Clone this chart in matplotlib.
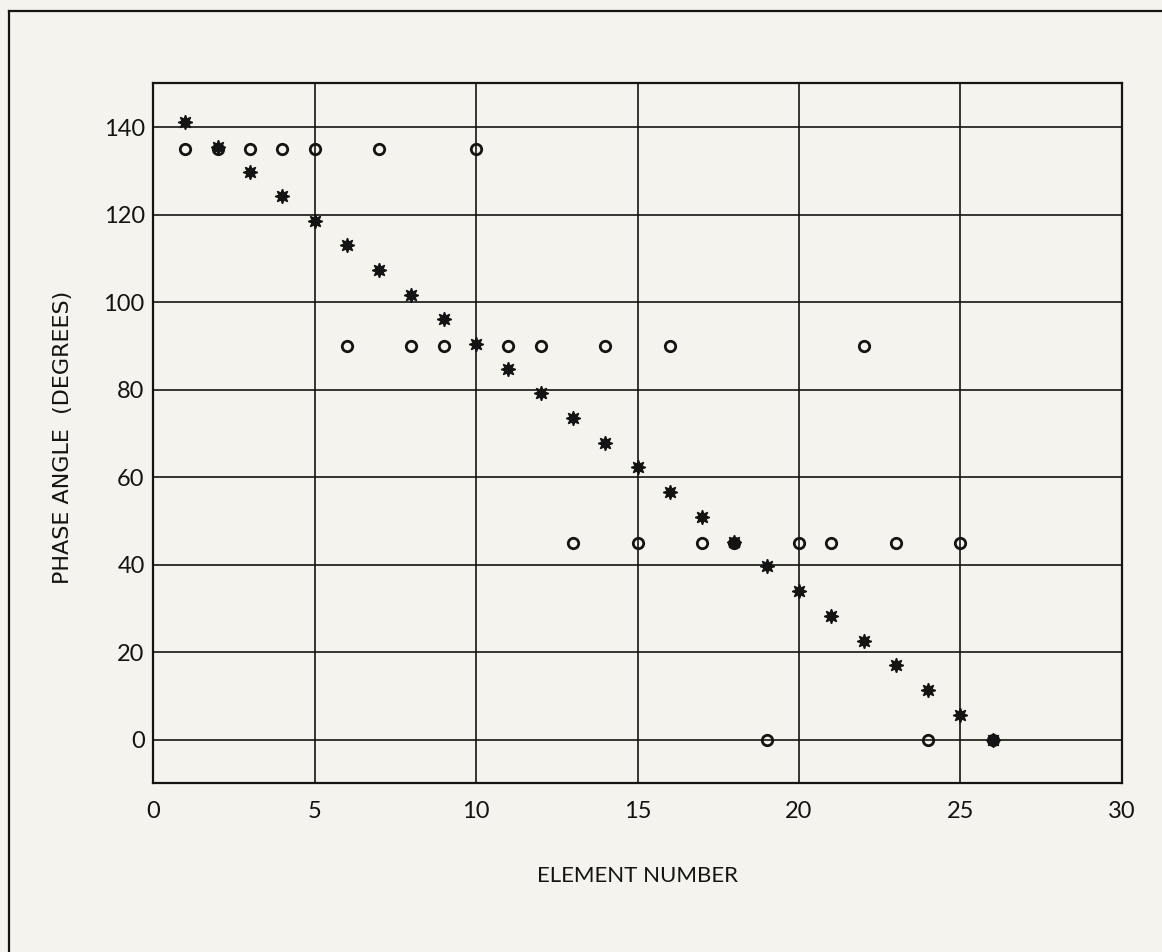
"""
Phase angle per array element: computed phase (asterisks) vs. quantized phase (circles).
"""
import matplotlib

matplotlib.use("Agg")
import matplotlib.pyplot as plt
from matplotlib.lines import Line2D

plt.rcParams["font.family"] = ["Lato", "DejaVu Sans"]

# 데이터 — 그림에서 읽은 값
element = list(range(1, 27))
phase_exact = [141.1, 135.4, 129.8, 124.2, 118.6, 113.0, 107.3, 101.7, 96.1,
               90.4, 84.8, 79.1, 73.5, 67.8, 62.2, 56.5, 50.9, 45.2, 39.6,
               33.9, 28.3, 22.6, 17.0, 11.3, 5.7, 0.0]
phase_quant = [135, 135, 135, 135, 135, 90, 135, 90, 90, 135, 90, 90, 45,
               90, 45, 90, 45, 45, 0, 45, 45, 90, 45, 0, 45, 0]
x_ticks = [0, 5, 10, 15, 20, 25, 30]
y_ticks = [0, 20, 40, 60, 80, 100, 120, 140]

BG = "#f4f3ee"
INK = "#141414"
W, H = 1162, 952

fig = plt.figure(figsize=(W / 100, H / 100), dpi=100, facecolor=BG)

# 바깥 테두리 (왼쪽/위쪽만 보임)
x0, y0 = 9 / W, 1 - 11 / H
fig.add_artist(Line2D([x0, x0], [-0.05, y0], transform=fig.transFigure,
                      color=INK, linewidth=1.6))
fig.add_artist(Line2D([x0, 1.05], [y0, y0], transform=fig.transFigure,
                      color=INK, linewidth=1.6))

ax = fig.add_axes([153 / W, 1 - 783.3 / H, 969 / W, 700 / H])
ax.set_facecolor(BG)

ax.set_xlim(0, 30)
ax.set_ylim(-10, 150)
ax.set_xticks(x_ticks)
ax.set_yticks(y_ticks)
ax.grid(True, color=INK, linewidth=1.2)
ax.set_axisbelow(True)
for s in ax.spines.values():
    s.set_color(INK)
    s.set_linewidth(1.6)
ax.tick_params(axis="both", length=0, labelsize=17, colors=INK)
ax.tick_params(axis="x", pad=13)
ax.tick_params(axis="y", pad=6)

ax.plot(element, phase_quant, linestyle="none", marker="o",
        markersize=7.5, markerfacecolor="none", markeredgecolor=INK,
        markeredgewidth=2.0, zorder=3)
ax.plot(element, phase_exact, linestyle="none", marker=(8, 1, 0),
        markersize=10.5, color=INK, zorder=4)

ax.set_xlabel("ELEMENT NUMBER", fontsize=16, color=INK)
ax.set_ylabel("PHASE ANGLE  (DEGREES)", fontsize=16, color=INK,
              family=["DejaVu Sans"])
ax.xaxis.set_label_coords(0.5, -(875.5 - 783.3) / 700, transform=ax.transAxes)
ax.yaxis.set_label_coords(-(153 - 63) / 969, (783.3 - 437.5) / 700,
                          transform=ax.transAxes)
ax.xaxis.label.set_va("center")
ax.yaxis.label.set_va("center")

fig.savefig("out.png", dpi=100, facecolor=BG)
